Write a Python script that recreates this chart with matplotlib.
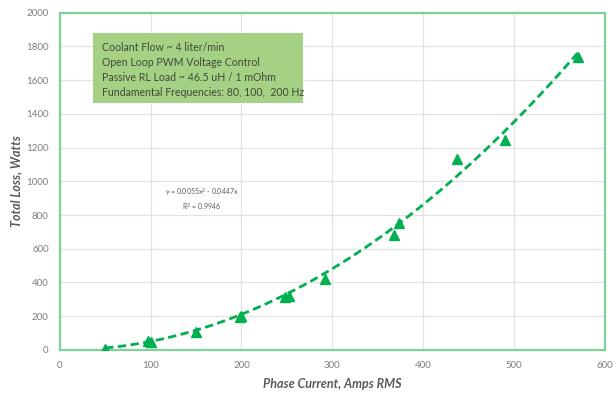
import numpy as np
import matplotlib
matplotlib.use("Agg")
import matplotlib.pyplot as plt
from matplotlib.patches import Rectangle

# Measured loss vs phase current
current_a = [50, 97, 100, 150, 198, 200, 248, 252, 292, 368, 373, 437, 490, 570]
loss_w = [5, 55, 45, 108, 195, 200, 312, 320, 420, 680, 755, 1135, 1245, 1740]

# Polynomial trendline coefficients (y = a*x^2 + b*x)
fit_a = 0.0055
fit_b = -0.0447
fit_r2 = 0.9946

x_ticks = [0, 100, 200, 300, 400, 500, 600]
y_ticks = [0, 200, 400, 600, 800, 1000, 1200, 1400, 1600, 1800, 2000]

notes = [
    "Coolant Flow ~ 4 liter/min",
    "Open Loop PWM Voltage Control",
    "Passive RL Load ~ 46.5 uH / 1 mOhm",
    "Fundamental Frequencies: 80, 100,  200 Hz",
]

plt.rcParams["font.family"] = ["Lato", "DejaVu Sans"]

GREEN = "#00b050"
FRAME = "#7fd39a"
GRID = "#e3e3e3"
TXT = "#7f7f7f"

fig = plt.figure(figsize=(6.16, 3.99), dpi=100)
ax = fig.add_axes([0.097, 0.123, 0.885, 0.845])

ax.set_xlim(0, 600)
ax.set_ylim(0, 2000)
ax.set_xticks(x_ticks)
ax.set_yticks(y_ticks)
ax.grid(True, color=GRID, linewidth=0.9)
ax.set_axisbelow(True)
for s in ax.spines.values():
    s.set_color(FRAME)
    s.set_linewidth(1.6)
ax.tick_params(length=0, labelsize=7, colors=TXT, pad=8)

xs = np.linspace(min(current_a), max(current_a), 200)
ax.plot(xs, fit_a * xs**2 + fit_b * xs, color=GREEN, linestyle=(0, (3, 1.6)),
        linewidth=2.0, zorder=3)
ax.plot(current_a, loss_w, linestyle="none", marker="^", markersize=6.5,
        color=GREEN, zorder=4)

ax.set_xlabel("Phase Current, Amps RMS", fontsize=9, fontweight="bold",
              fontstyle="italic", color="#5a5a5a", labelpad=6)
ax.set_ylabel("Total Loss, Watts", fontsize=9, fontweight="bold",
              fontstyle="italic", color="#5a5a5a", labelpad=3)

# Test-condition note box
ax.add_patch(Rectangle((0.0606, 0.732), 0.385, 0.208, transform=ax.transAxes,
                       facecolor="#a4d183", edgecolor="none", zorder=5))
ax.text(0.078, 0.912, "\n".join(notes), transform=ax.transAxes, fontsize=7.6,
        color="#3f4a3a", va="top", ha="left", linespacing=1.42, zorder=6)

ax.text(0.26, 0.445, "y = %.4fx$^2$ - %.4fx\nR$^2$ = %.4f" % (fit_a, -fit_b, fit_r2),
        transform=ax.transAxes, fontsize=5, color="#595959", ha="center",
        va="center", linespacing=1.25)

fig.savefig("out.png", dpi=100)
